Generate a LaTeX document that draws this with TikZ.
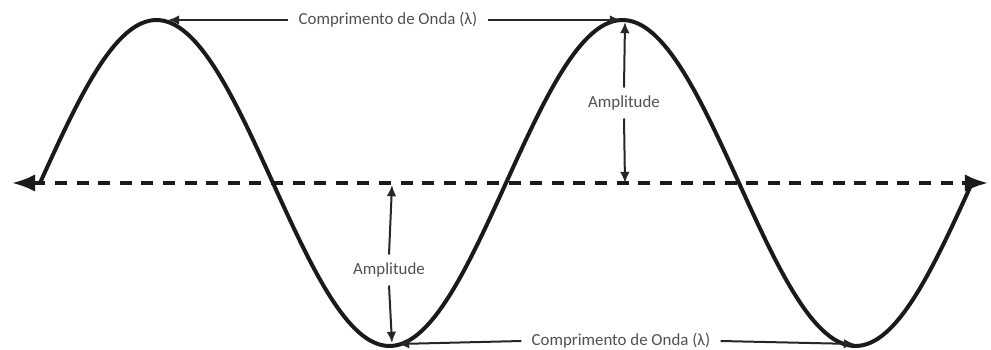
\documentclass[tikz,border=0pt]{standalone}
\usepackage{fontspec}
\setmainfont{Carlito}
\usepackage{xcolor}
\usepackage{tikz}
\usetikzlibrary{arrows.meta}
\definecolor{ink}{HTML}{1A1A1A}
\definecolor{inkii}{HTML}{262626}
\definecolor{label}{HTML}{505050}
\tikzset{
  wave/.style    = {draw=ink, line width=1.0mm, line cap=round},
  axis/.style    = {draw=ink, line width=0.9mm, dash pattern=on 3mm off 2.4mm, {Latex[length=5.8mm,width=4.4mm]}-{Latex[length=5.8mm,width=4.4mm]}},
  measure/.style = {draw=inkii, line width=0.5mm},
  tip/.style     = {-{Latex[length=2.8mm,width=2.4mm]}},
  lbl/.style     = {font=\fontsize{12}{14}\selectfont\color{label}, inner xsep=2.5mm, inner ysep=2mm},
}
\begin{document}
\begin{tikzpicture}[x=0.25mm,y=-0.25mm]
\path[use as bounding box] (0,0) rectangle (991,349);

% ---- the axis -----------------------------------------------------------
\coordinate (axL) at (12,183);
\coordinate (axR) at (988,183);
\draw[axis] (axL) -- (axR);

% ---- the wave -----------------------------------------------------------
\draw[wave] plot[domain=0:720, samples=240, smooth] ({40+\x/360*466}, {183-163*sin(\x)});

% ---- wavelength, top ----------------------------------------------------
\coordinate (peakA) at (168,20);
\coordinate (peakB) at (621,20);
\node[lbl] (wlTop) at (388,20) {Comprimento de Onda (λ)};
\draw[measure, tip] (wlTop.west) -- (peakA);
\draw[measure, tip] (wlTop.east) -- (peakB);

% ---- wavelength, bottom -------------------------------------------------
\coordinate (troughA) at (398,344);
\coordinate (troughB) at (855,344);
\node[lbl] (wlBot) at (621,341) {Comprimento de Onda (λ)};
\draw[measure, tip] (wlBot.west) -- (troughA);
\draw[measure, tip] (wlBot.east) -- (troughB);

% ---- amplitude ----------------------------------------------------------
\coordinate (ampTopHi) at (625,22);
\coordinate (ampTopLo) at (625,183);
\node[lbl] (ampTop) at (624,103) {Amplitude};
\draw[measure, tip] (ampTop.north) -- (ampTopHi);
\draw[measure, tip] (ampTop.south) -- (ampTopLo);

\coordinate (ampBotHi) at (392,185);
\coordinate (ampBotLo) at (392,343);
\node[lbl] (ampBot) at (389,270) {Amplitude};
\draw[measure, tip] (ampBot.north) -- (ampBotHi);
\draw[measure, tip] (ampBot.south) -- (ampBotLo);

\end{tikzpicture}
\end{document}
